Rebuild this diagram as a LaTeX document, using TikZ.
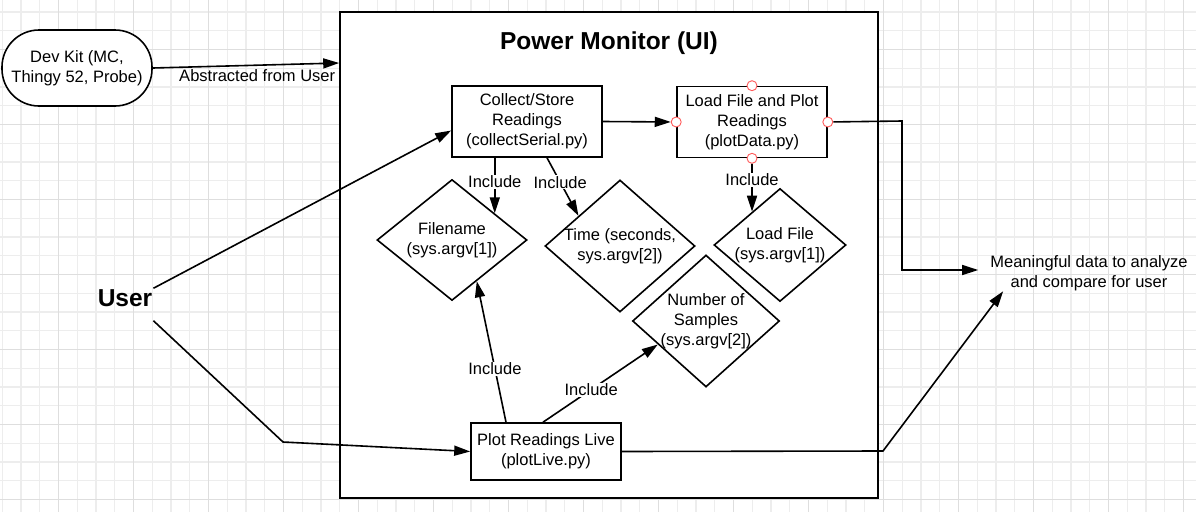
\documentclass[tikz,border=0pt]{standalone}
\usepackage{fontspec}
\setmainfont{Liberation Sans}
\usetikzlibrary{arrows.meta,shapes.geometric}
\tikzstyle{box}      = [rectangle, draw, line width=1.6pt, fill=white, minimum width=150pt, align=center, inner sep=2pt]
\tikzstyle{decision} = [diamond, draw, line width=1.6pt, fill=white, inner sep=0pt]
\tikzstyle{arrow}    = [line width=1.6pt, -{Triangle[length=16pt,width=10pt]}]

\begin{document}
\begin{tikzpicture}[
			x=1pt, y=-1pt,
			font=\fontsize{16.5}{20}\selectfont,
			gridthin/.style={draw=black!7, line width=0.8pt},
			gridmid/.style={draw=black!7, line width=1.8pt},
			gridmajor/.style={draw=black!13, line width=0.9pt},
			port/.style={circle, draw=red!65!white, fill=white, line width=0.9pt, minimum size=10pt, inner sep=0pt},
			include/.style={fill=white, inner sep=1pt},
			bigtext/.style={font=\bfseries\fontsize{24.5}{28}\selectfont}
		]
		\useasboundingbox (0,0) rectangle (1196,512);
		% background grid
		\foreach \i in {0,...,63} \draw[gridthin] ({2.1+18.75*\i},0) -- ({2.1+18.75*\i},512);
		\foreach \i in {0,...,27} \draw[gridthin] (0,{11.8+18.75*\i}) -- (1196,{11.8+18.75*\i});
		\foreach \i in {0,...,15} \draw[gridmid] ({20.8+75*\i},0) -- ({20.8+75*\i},512);
		\foreach \i in {0,...,6} \draw[gridmid] (0,{11.8+75*\i}) -- (1196,{11.8+75*\i});
		\foreach \i in {0,...,15} \draw[gridmajor] ({58.3+75*\i},0) -- ({58.3+75*\i},512);
		\foreach \i in {0,...,6} \draw[gridmajor] (0,{49.3+75*\i}) -- (1196,{49.3+75*\i});

		% outer frame
		\node[draw, line width=1.6pt, fill=white, minimum width=538pt, minimum height=486pt, inner sep=0pt] (frame) at (609,255) {};
		\node[bigtext] (title) at (609,43) {Power Monitor (UI)};

		\node[box, rounded corners=37pt, minimum height=76pt] (devkit) at (77,68) {Dev Kit (MC,\\Thingy 52, Probe)};
		\node[bigtext, inner sep=1pt] (user) at (125,298) {User};
		\node[align=center, inner xsep=12pt] (mean) at (1089,273) {Meaningful data to analyze\\and compare for user};

		\node[box, minimum height=71pt] (collect) at (527,121.5) {Collect/Store\\Readings\\(collectSerial.py)};
		\node[box, minimum height=71pt] (load) at (752,122) {Load File and Plot\\Readings\\(plotData.py)};
		\node[box, minimum height=57pt] (live) at (546,451.5) {Plot Readings Live\\(plotLive.py)};

		\node[decision, minimum width=150pt, minimum height=121pt] (fname) at (452,240) {};
		\node[align=center] (fnametext) at (fname.center) {Filename\\(sys.argv[1])};
		\node[decision, minimum width=150pt, minimum height=132pt] (time) at (620,246) {};
		\node[align=center] (timetext) at (time.center) {Time (seconds,\\sys.argv[2])};
		\node[decision, minimum width=132pt, minimum height=113pt] (lfile) at (780,245) {};
		\node[align=center] (lfiletext) at (lfile.center) {Load File\\(sys.argv[1])};
		\node[decision, minimum width=147pt, minimum height=132pt] (nsamp) at (706,321) {};
		\node[align=center] (nsamptext) at (nsamp.center) {Number of\\Samples\\(sys.argv[2])};

		\node[port] (lw) at (load.west) {};
		\node[port] (le) at (load.east) {};
		\node[port] (ln) at (load.north) {};
		\node[port] (ls) at (load.south) {};

		\coordinate (ubend) at (283,442);
		\coordinate (dbend) at (902,121);
		\coordinate (rbend) at (883,451);

		\draw[arrow] (devkit.east) -- ([yshift=5pt]devkit.east -| frame.west)
			node[pos=0.56, below=3pt, inner sep=1pt] (abstr) {Abstracted from User};
		\draw[arrow] (user.north east) -- ([yshift=-9pt]collect.west);
		\draw[arrow] ([yshift=-13pt]user.south east) -- (ubend) -- (live.west);
		\draw[arrow] (collect.east) -- (lw);
		\draw[arrow] (collect.south -| fname.32) -- (fname.32) node[include, pos=0.43] (inc1) {Include};
		\draw[arrow] ([xshift=20pt]collect.south) -- (time.144) node[include, pos=0.42] (inc2) {Include};
		\draw[arrow] (ls) -- (lfile.130) node[include, pos=0.33] (inc3) {Include};
		\draw[arrow] ([xshift=-40pt]live.north) -- (fname.301) node[include, pos=0.38] (inc4) {Include};
		\draw[arrow] ([xshift=-3pt]live.north) -- (nsamp.206) node[include, pos=0.42] (inc5) {Include};
		\draw[arrow] (le) -- (dbend) |- ([yshift=3pt]mean.west);
		\draw[arrow] (live.east) -- (rbend) -- ([xshift=25pt,yshift=3pt]mean.south west);
	\end{tikzpicture}
\end{document}
